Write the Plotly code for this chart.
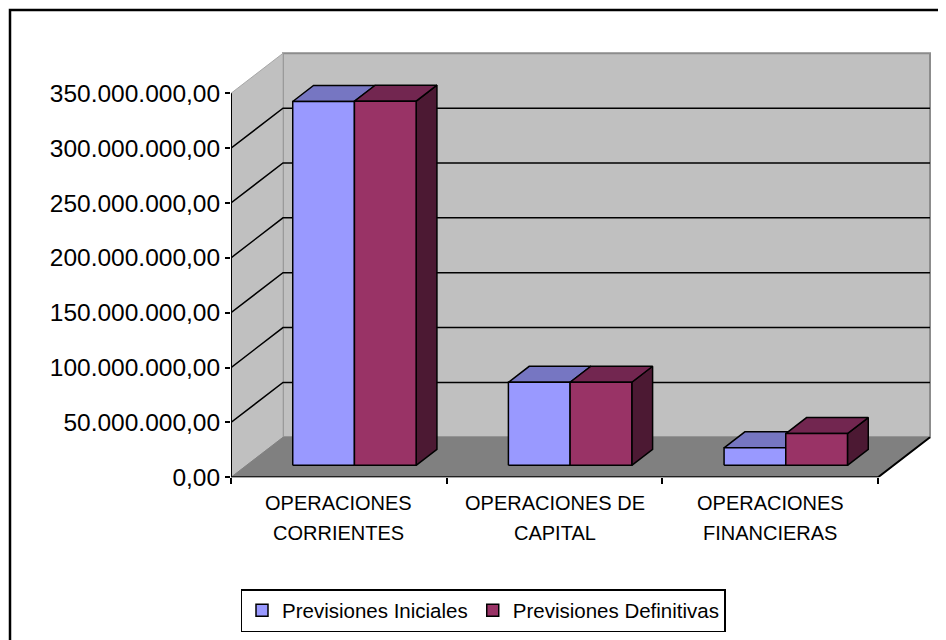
import plotly.graph_objects as go

# ---------------- data ----------------
categories = ["OPERACIONES<br>CORRIENTES", "OPERACIONES DE<br>CAPITAL", "OPERACIONES<br>FINANCIERAS"]
series_names = ["Previsiones Iniciales", "Previsiones Definitivas"]
previsiones_iniciales = [331.6e6, 75.6e6, 15.9e6]
previsiones_definitivas = [331.9e6, 75.7e6, 28.9e6]
y_tick_values = [0, 50e6, 100e6, 150e6, 200e6, 250e6, 300e6, 350e6]
y_tick_labels = ["0,00", "50.000.000,00", "100.000.000,00", "150.000.000,00",
                 "200.000.000,00", "250.000.000,00", "300.000.000,00", "350.000.000,00"]

# ---------------- styling / geometry ----------------
# the page body keeps its default 8px margin: figure positions = page positions - OFF
OFF = 8
W, H = 946, 640


def px(v):
    return v - OFF


PX_X0, PX_XN = px(231), px(878)          # front-left / front-right of category axis
PX_Y0, PX_YTOP = px(477.3), px(93.3)     # rows of 0 and of the top tick
PX_RIGHT, PX_TOP = px(940), px(45)
ncat = len(categories)
ymax_tick = y_tick_values[-1]
ppx = (PX_XN - PX_X0) / ncat
ppy = (PX_Y0 - PX_YTOP) / ymax_tick
DX = 52 / ppx                    # wall depth in axis units
DY = 40 / ppy
F0, FD = 0.30, 0.40              # bar front depth / bar thickness (fractions)
BW = 61.7 / ppx                  # bar width in category units

front_cols = ["#9999FF", "#993366"]
top_cols = ["#7676C2", "#722650"]
side_cols = ["#4C4C80", "#4C1933"]
WALL, FLOOR = "#C0C0C0", "#808080"

traces = []


def poly(xs, ys, fill, line="black", lw=1.5):
    return go.Scatter(x=list(xs) + [xs[0]], y=list(ys) + [ys[0]], mode="lines",
                      fill="toself", fillcolor=fill, line=dict(color=line, width=lw),
                      hoverinfo="skip", showlegend=False)


# walls
traces.append(poly([DX, ncat + DX, ncat + DX, DX], [DY, DY, ymax_tick + DY, ymax_tick + DY], WALL, "#8C8C8C", 2))
traces.append(poly([0, DX, DX, 0], [0, DY, ymax_tick + DY, ymax_tick], WALL, "#A8A8A8", 1))
traces.append(poly([0, ncat, ncat + DX, DX], [0, 0, DY, DY], FLOOR, FLOOR, 1))

# gridlines (back wall + side wall)
gx, gy = [], []
for v in y_tick_values[1:-1]:
    gx += [0, DX, ncat + DX, None]
    gy += [v, v + DY, v + DY, None]
traces.append(go.Scatter(x=gx, y=gy, mode="lines", line=dict(color="black", width=1.5),
                         hoverinfo="skip", showlegend=False))

# bars: drawn left to right, side -> top -> front
series_vals = [previsiones_iniciales, previsiones_definitivas]
for i in range(ncat):
    for s, vals in enumerate(series_vals):
        v = vals[i]
        xl = i + 0.5 - BW + s * BW + F0 * DX
        xr = xl + BW
        yb = F0 * DY
        yt = yb + v
        ox, oy = FD * DX, FD * DY
        traces.append(poly([xr, xr + ox, xr + ox, xr], [yb, yb + oy, yt + oy, yt], side_cols[s]))
        traces.append(poly([xl, xr, xr + ox, xl + ox], [yt, yt, yt + oy, yt + oy], top_cols[s]))
        traces.append(poly([xl, xr, xr, xl], [yb, yb, yt, yt], front_cols[s]))

# front axis lines
traces.append(go.Scatter(x=[0, 0, None, 0, ncat, ncat + DX], y=[ymax_tick, 0, None, 0, 0, DY],
                         mode="lines", line=dict(color="black", width=2),
                         hoverinfo="skip", showlegend=False))

# legend entries
for s, name in enumerate(series_names):
    traces.append(go.Bar(x=[None], y=[None], name=name,
                         marker=dict(color=front_cols[s], line=dict(color="black", width=1.5))))

fig = go.Figure(traces)

# category labels (two lines each, as in the original)
annotations = []
for i, cat in enumerate(categories):
    for k, line in enumerate(cat.split("<br>")):
        annotations.append(dict(x=i + 0.5, xref="x", y=1 - px(503 + 30 * k) / H, yref="paper",
                                text=line, showarrow=False, xanchor="center", yanchor="middle",
                                font=dict(size=20, color="black")))

xr_max = (PX_RIGHT - PX_X0) / ppx
yr_max = (PX_Y0 - PX_TOP) / ppy
fig.update_layout(
    width=W, height=H,
    margin=dict(l=0, r=0, t=0, b=0, autoexpand=False),
    paper_bgcolor="white", plot_bgcolor="rgba(0,0,0,0)",
    font=dict(family="Liberation Sans, Arial, sans-serif", color="black"),
    xaxis=dict(domain=[PX_X0 / W, PX_RIGHT / W], range=[0, xr_max], showgrid=False,
               zeroline=False, showline=False, showticklabels=False,
               tickmode="array", tickvals=[i + 0.5 for i in range(ncat)], ticks="",
               minor=dict(tickmode="array", tickvals=list(range(ncat + 1)), ticks="outside",
                          ticklen=6, tickwidth=2, tickcolor="black", showgrid=False)),
    yaxis=dict(domain=[1 - PX_Y0 / H, 1 - PX_TOP / H], range=[0, yr_max], showgrid=False,
               zeroline=False, showline=False,
               tickmode="array", tickvals=y_tick_values, ticktext=y_tick_labels,
               ticks="outside", ticklen=5, tickwidth=2, tickcolor="black",
               tickfont=dict(size=24.5)),
    showlegend=True,
    legend=dict(orientation="h", x=px(483) / W, xanchor="center", y=1 - px(589) / H, yanchor="top",
                bordercolor="black", borderwidth=1.5, bgcolor="white",
                font=dict(size=20.5), itemwidth=30, traceorder="normal"),
    annotations=annotations,
    shapes=[
        dict(type="rect", xref="paper", yref="paper", x0=px(10) / W, x1=1.05, y0=-0.05, y1=1 - px(10) / H,
             line=dict(color="black", width=2.5), layer="below"),
    ],
)

fig.write_html("out.html", config={"displayModeBar": False})
